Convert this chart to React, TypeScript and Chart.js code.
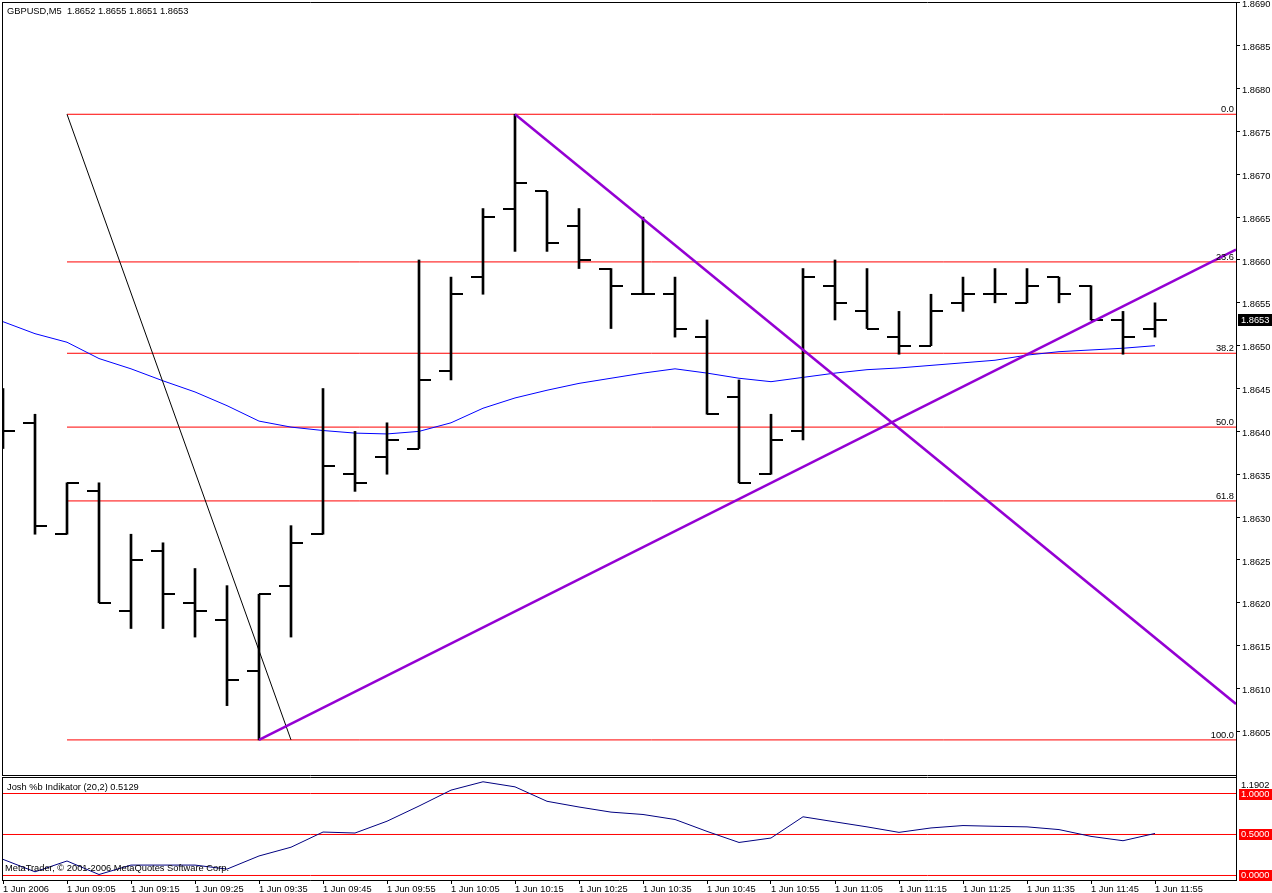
import React, { useEffect, useRef } from 'react';
import { Chart, registerables } from 'chart.js';

Chart.register(...registerables);

// ---- price bars (GBPUSD M5, bar 0 = 08:55) ----
const opens = [1.8640, 1.8641, 1.8628, 1.8633, 1.8619, 1.8626, 1.8620, 1.8618, 1.8612, 1.8622, 1.8628, 1.8635, 1.8637, 1.8638, 1.8647, 1.8658, 1.8666, 1.8668, 1.8664, 1.8659, 1.8656, 1.8656, 1.8651, 1.8644, 1.8635, 1.8640, 1.8657, 1.8654, 1.8651, 1.8650, 1.8655, 1.8656, 1.8655, 1.8658, 1.8657, 1.8653, 1.8652];
const highs = [1.8645, 1.8642, 1.8634, 1.8634, 1.8628, 1.8627, 1.8624, 1.8622, 1.8621, 1.8629, 1.8645, 1.8640, 1.8641, 1.8660, 1.8658, 1.8666, 1.8677, 1.8668, 1.8666, 1.8659, 1.8665, 1.8658, 1.8653, 1.8646, 1.8642, 1.8659, 1.8660, 1.8659, 1.8654, 1.8656, 1.8658, 1.8659, 1.8659, 1.8658, 1.8657, 1.8654, 1.8655];
const lows = [1.8638, 1.8628, 1.8628, 1.8620, 1.8617, 1.8617, 1.8616, 1.8608, 1.8604, 1.8616, 1.8628, 1.8633, 1.8635, 1.8638, 1.8646, 1.8656, 1.8661, 1.8661, 1.8659, 1.8652, 1.8656, 1.8651, 1.8642, 1.8634, 1.8635, 1.8639, 1.8653, 1.8652, 1.8649, 1.8650, 1.8654, 1.8655, 1.8655, 1.8655, 1.8653, 1.8649, 1.8651];
const closes = [1.8640, 1.8629, 1.8634, 1.8620, 1.8625, 1.8621, 1.8619, 1.8611, 1.8621, 1.8627, 1.8636, 1.8634, 1.8639, 1.8646, 1.8656, 1.8665, 1.8669, 1.8662, 1.8660, 1.8657, 1.8656, 1.8652, 1.8642, 1.8634, 1.8639, 1.8658, 1.8655, 1.8652, 1.8650, 1.8654, 1.8656, 1.8656, 1.8657, 1.8656, 1.8653, 1.8651, 1.8653];

// ---- moving average (blue) ----
const maValues = [1.86528, 1.86514, 1.86504, 1.86485, 1.86473, 1.86459, 1.86446, 1.86430, 1.86412, 1.86405, 1.86401, 1.86398, 1.86397, 1.86400, 1.86410, 1.86427, 1.86439, 1.86448, 1.86456, 1.86462, 1.86468, 1.86473, 1.86468, 1.86462, 1.86458, 1.86463, 1.86468, 1.86472, 1.86474, 1.86477, 1.86480, 1.86483, 1.86489, 1.86493, 1.86495, 1.86497, 1.86500];

// ---- Josh %b indicator ----
const percentB = [0.197, 0.045, 0.177, 0.012, 0.127, 0.127, 0.127, 0.078, 0.238, 0.345, 0.530, 0.518, 0.662, 0.847, 1.041, 1.143, 1.081, 0.905, 0.835, 0.773, 0.744, 0.683, 0.538, 0.403, 0.457, 0.716, 0.654, 0.593, 0.526, 0.580, 0.609, 0.600, 0.593, 0.560, 0.477, 0.424, 0.5129];
const pbLevels = [0, 0.5, 1.0];
const pbMaxLabel = '1.1902';

// ---- axes ----
const priceTicks = [1.8605, 1.8610, 1.8615, 1.8620, 1.8625, 1.8630, 1.8635, 1.8640, 1.8645, 1.8650, 1.8655, 1.8660, 1.8665, 1.8670, 1.8675, 1.8680, 1.8685, 1.8690];
const timeLabels = ['1 Jun 2006', '1 Jun 09:05', '1 Jun 09:15', '1 Jun 09:25', '1 Jun 09:35', '1 Jun 09:45', '1 Jun 09:55', '1 Jun 10:05', '1 Jun 10:15', '1 Jun 10:25', '1 Jun 10:35', '1 Jun 10:45', '1 Jun 10:55', '1 Jun 11:05', '1 Jun 11:15', '1 Jun 11:25', '1 Jun 11:35', '1 Jun 11:45', '1 Jun 11:55'];

// ---- drawn objects ----
const fibRatios = [0, 23.6, 38.2, 50.0, 61.8, 100.0];
const fibHigh = 1.8677;
const fibLow = 1.8604;
const fibBars = [2, 9];
const trendUpBars = [8, 1233 / 32];
const trendUpPrices = [1.8604, 1.86612];
const trendDownBars = [16, 1233 / 32];
const trendDownPrices = [1.8677, 1.86082];

// ---- texts ----
const headerText = 'GBPUSD,M5  1.8652 1.8655 1.8651 1.8653';
const indTitle = 'Josh %b Indikator (20,2) 0.5129';
const copyright = 'MetaTrader, © 2001-2006 MetaQuotes Software Corp.';

const X_MIN = -1 / 32;
const X_MAX = 1233 / 32;
const PRICE_MIN = 1.859979;
const PRICE_MAX = 1.86901;
const PB_MIN = -0.05488;
const PB_MAX = 1.20122;
const FONT = '"Liberation Sans", Arial, sans-serif';
const FONT_SIZE = 9.3;
const FONT_CSS = `${FONT_SIZE}px "Liberation Sans", Arial, sans-serif`;

function tickImage(side: 'left' | 'right') {
  const c = document.createElement('canvas');
  c.width = 26;
  c.height = 2;
  const g = c.getContext('2d')!;
  g.fillStyle = '#000';
  if (side === 'left') g.fillRect(1, 0, 12, 2);
  else g.fillRect(13, 0, 12, 2);
  return c;
}

const mainDeco = {
  id: 'mainDeco',
  afterDraw(chart: any) {
    const { ctx, chartArea: a, scales } = chart;
    const ys = scales.y;
    ctx.save();
    ctx.strokeStyle = '#000';
    ctx.lineWidth = 1;
    ctx.beginPath();
    ctx.moveTo(a.left + 0.5, a.top);
    ctx.lineTo(a.left + 0.5, a.bottom);
    ctx.moveTo(a.left, a.top + 0.5);
    ctx.lineTo(a.right, a.top + 0.5);
    ctx.moveTo(a.left, a.bottom - 0.5);
    ctx.lineTo(a.right, a.bottom - 0.5);
    ctx.stroke();

    ctx.font = FONT_CSS;
    ctx.fillStyle = '#000';
    ctx.textBaseline = 'middle';
    ctx.textAlign = 'left';
    ctx.fillText(headerText, 7, 11);

    ctx.textAlign = 'right';
    ctx.textBaseline = 'alphabetic';
    fibRatios.forEach((r) => {
      const level = fibHigh - ((fibHigh - fibLow) * r) / 100;
      const py = ys.getPixelForValue(level);
      ctx.fillText(r.toFixed(1), a.right - 2, py - 2);
    });

    const last = closes[closes.length - 1];
    const py = Math.round(ys.getPixelForValue(last));
    ctx.fillStyle = '#000';
    ctx.fillRect(a.right + 2, py - 6, 34, 12);
    ctx.fillStyle = '#fff';
    ctx.textAlign = 'left';
    ctx.textBaseline = 'middle';
    ctx.fillText(last.toFixed(4), a.right + 5, py);
    ctx.restore();
  },
};

const indDeco = {
  id: 'indDeco',
  afterDraw(chart: any) {
    const { ctx, chartArea: a, scales } = chart;
    const ys = scales.y;
    ctx.save();
    ctx.strokeStyle = '#000';
    ctx.lineWidth = 1;
    ctx.beginPath();
    ctx.moveTo(a.left + 0.5, a.top);
    ctx.lineTo(a.left + 0.5, a.bottom);
    ctx.moveTo(a.left, a.top + 0.5);
    ctx.lineTo(a.right, a.top + 0.5);
    ctx.stroke();

    ctx.font = FONT_CSS;
    ctx.fillStyle = '#000';
    ctx.textBaseline = 'middle';
    ctx.textAlign = 'left';
    ctx.fillText(indTitle, 7, 10);
    ctx.fillText(copyright, 5, 91);
    ctx.fillText(pbMaxLabel, a.right + 5, 8);

    pbLevels.forEach((l) => {
      const py = Math.round(ys.getPixelForValue(l));
      ctx.fillStyle = '#FF0000';
      ctx.fillRect(a.right + 3, py - 5, 33, 11);
      ctx.fillStyle = '#fff';
      ctx.fillText(l.toFixed(4), a.right + 5, py + 0.5);
    });
    ctx.restore();
  },
};

export default function App() {
  const mainRef = useRef<HTMLCanvasElement>(null);
  const indRef = useRef<HTMLCanvasElement>(null);

  useEffect(() => {
    Chart.defaults.font.family = FONT;
    Chart.defaults.font.size = FONT_SIZE;
    Chart.defaults.color = '#000';
    const leftTick = tickImage('left');
    const rightTick = tickImage('right');
    const idx = closes.map((_, i) => i);
    const fibLevels = fibRatios.map((r) => fibHigh - ((fibHigh - fibLow) * r) / 100);

    const main = new Chart(mainRef.current!, {
      type: 'line',
      data: {
        datasets: [
          {
            data: [
              { x: trendUpBars[0], y: trendUpPrices[0] },
              { x: trendUpBars[1], y: trendUpPrices[1] },
            ],
            borderColor: '#9400D3',
            borderWidth: 2.5,
            pointRadius: 0,
            order: 0,
          },
          {
            data: [
              { x: trendDownBars[0], y: trendDownPrices[0] },
              { x: trendDownBars[1], y: trendDownPrices[1] },
            ],
            borderColor: '#9400D3',
            borderWidth: 2.5,
            pointRadius: 0,
            order: 0,
          },
          {
            data: [
              { x: fibBars[0], y: fibHigh },
              { x: fibBars[1], y: fibLow },
            ],
            borderColor: '#000',
            borderWidth: 1,
            pointRadius: 0,
            order: 1,
          },
          {
            data: idx.map((i) => ({ x: i, y: opens[i] })),
            showLine: false,
            pointStyle: leftTick as any,
            pointRadius: 2,
            borderWidth: 0,
            clip: 0,
            order: 2,
          },
          {
            data: idx.map((i) => ({ x: i, y: closes[i] })),
            showLine: false,
            pointStyle: rightTick as any,
            pointRadius: 2,
            borderWidth: 0,
            clip: 0,
            order: 2,
          },
          {
            type: 'bar',
            data: idx.map((i) => ({ x: i, y: [lows[i], highs[i]] })) as any,
            backgroundColor: '#000',
            barThickness: 2,
            borderWidth: 0,
            clip: 0,
            order: 3,
          } as any,
          {
            data: idx.map((i) => ({ x: i, y: maValues[i] })),
            borderColor: '#0000FF',
            borderWidth: 1,
            pointRadius: 0,
            order: 4,
          },
          ...fibLevels.map((l) => ({
            data: [
              { x: fibBars[0], y: l },
              { x: X_MAX, y: l },
            ],
            borderColor: '#FF0000',
            borderWidth: 1,
            pointRadius: 0,
            order: 5,
          })),
        ] as any,
      },
      options: {
        responsive: false,
        animation: false,
        events: [],
        layout: { padding: { top: 2, left: 2, right: 0, bottom: 1 }, autoPadding: false } as any,
        plugins: { legend: { display: false }, tooltip: { enabled: false } },
        scales: {
          x: { type: 'linear', min: X_MIN, max: X_MAX, display: false, offset: false },
          y: {
            type: 'linear',
            position: 'right',
            min: PRICE_MIN,
            max: PRICE_MAX,
            afterBuildTicks: (s: any) => {
              s.ticks = priceTicks.map((v) => ({ value: v }));
            },
            afterFit: (s: any) => {
              s.width = 36;
              s.paddingTop = 0;
              s.paddingBottom = 0;
            },
            ticks: {
              callback: (v: any) => Number(v).toFixed(4),
              padding: 2,
              labelOffset: 2,
              autoSkip: false,
              font: { size: FONT_SIZE, family: FONT },
              color: '#000',
            },
            grid: { drawOnChartArea: false, drawTicks: true, tickLength: 4, color: '#000' },
            border: { display: true, color: '#000', width: 1 },
          },
        } as any,
      },
      plugins: [mainDeco],
    });

    const ind = new Chart(indRef.current!, {
      type: 'line',
      data: {
        datasets: [
          {
            data: idx.map((i) => ({ x: i, y: percentB[i] })),
            borderColor: '#000080',
            borderWidth: 1,
            pointRadius: 0,
            order: 0,
          },
          ...pbLevels.map((l) => ({
            data: [
              { x: X_MIN, y: l },
              { x: X_MAX, y: l },
            ],
            borderColor: '#FF0000',
            borderWidth: 1,
            pointRadius: 0,
            order: 1,
          })),
        ] as any,
      },
      options: {
        responsive: false,
        animation: false,
        events: [],
        layout: { padding: { top: 0, left: 2, right: 0, bottom: 0 }, autoPadding: false } as any,
        plugins: { legend: { display: false }, tooltip: { enabled: false } },
        scales: {
          x: {
            type: 'linear',
            position: 'bottom',
            min: X_MIN,
            max: X_MAX,
            offset: false,
            afterBuildTicks: (s: any) => {
              s.ticks = timeLabels.map((_, k) => ({ value: k * 2 }));
            },
            afterFit: (s: any) => {
              s.height = 13;
              s.paddingLeft = 0;
              s.paddingRight = 0;
            },
            ticks: {
              callback: (_v: any, i: number) => timeLabels[i],
              align: 'start',
              padding: 0,
              autoSkip: false,
              maxRotation: 0,
              minRotation: 0,
              font: { size: FONT_SIZE, family: FONT },
              color: '#000',
            },
            grid: { drawOnChartArea: false, drawTicks: true, tickLength: 4, color: '#000' },
            border: { display: true, color: '#000', width: 1 },
          },
          y: {
            type: 'linear',
            position: 'right',
            min: PB_MIN,
            max: PB_MAX,
            afterFit: (s: any) => {
              s.width = 36;
              s.paddingTop = 0;
              s.paddingBottom = 0;
            },
            ticks: { display: false },
            grid: { display: false },
            border: { display: true, color: '#000', width: 1 },
          },
        } as any,
      },
      plugins: [indDeco],
    });

    return () => {
      main.destroy();
      ind.destroy();
    };
  }, []);

  return (
    <div
      style={{
        position: 'fixed',
        left: 0,
        top: 0,
        width: 1272,
        height: 893,
        background: '#fff',
        overflow: 'hidden',
      }}
    >
      <canvas
        ref={mainRef}
        width={1272}
        height={777}
        style={{ position: 'absolute', left: 0, top: 0, width: 1272, height: 777 }}
      />
      <canvas
        ref={indRef}
        width={1272}
        height={116}
        style={{ position: 'absolute', left: 0, top: 777, width: 1272, height: 116 }}
      />
    </div>
  );
}
